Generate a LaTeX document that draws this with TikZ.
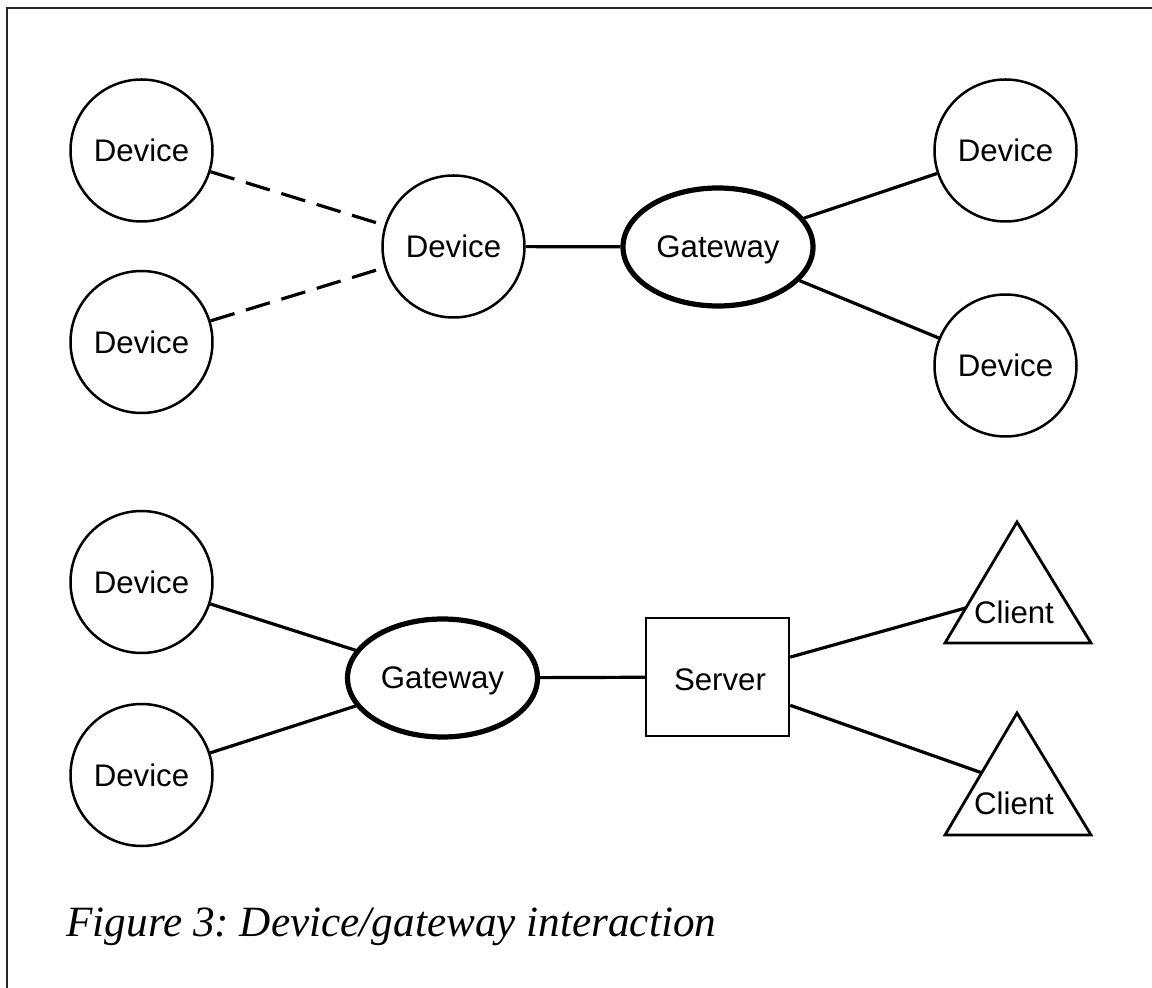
\documentclass[tikz,border=0pt]{standalone}
\usepackage{fontspec}
\setmainfont{Liberation Sans}
\newfontfamily\capfont{Liberation Serif}
\usetikzlibrary{shapes.geometric,calc}
\frenchspacing
\tikzset{
  lbl/.style={font=\fontsize{15.6}{18}\selectfont, inner sep=0pt},
  dev/.style={circle, draw, line width=1.25pt, minimum size=71pt, inner sep=0pt, font=\fontsize{15.6}{18}\selectfont},
  gw/.style={ellipse, draw, line width=2.6pt, minimum width=95pt, minimum height=59pt, inner sep=0pt, text depth=0pt, font=\fontsize{15.6}{18}\selectfont},
  srv/.style={rectangle, draw, line width=1.2pt, minimum width=71.5pt, minimum height=59pt, inner sep=0pt},
  link/.style={line width=1.6pt},
  dlink/.style={line width=1.6pt, dash pattern=on 12.5pt off 6pt},
  tri/.style={line width=1.4pt, line join=miter},
  frame/.style={line width=0.7pt, draw=black!85}
}
\begin{document}
\begin{tikzpicture}[x=0.5pt,y=-0.5pt]
\useasboundingbox (0,0) rectangle (1152,988);
% frame
\coordinate (fb) at (7,988);
\coordinate (ft) at (7,8);
\coordinate (fr) at (1152,8);
\draw[frame] (fb) -- (ft) -- (fr);

% top group
\node[dev] (d1) at (141.5,150.5) {Device};
\node[dev] (d2) at (141.5,342) {Device};
\node[dev] (d3) at (453.5,246.5) {Device};
\node[gw]  (g1) at (718,247) {Gateway};
\node[dev] (d4) at (1005.5,150.5) {Device};
\node[dev] (d5) at (1005.5,365.5) {Device};

\draw[dlink] (d1) -- (d3);
\draw[dlink] (d2) -- (d3);
\draw[link] (d3) -- (g1);
\draw[link] (g1) -- (d4);
\draw[link] (g1) -- (d5);

% bottom group
\node[dev] (d6) at (141.5,582) {Device};
\node[dev] (d7) at (141.5,775) {Device};
\node[gw]  (g2) at (442.5,678) {Gateway};
\node[srv] (s) at (717.5,677) {};
\node[lbl] (stxt) at (720,680) {Server};

\coordinate (c1a) at (1017,522);
\coordinate (c1l) at (945,643);
\coordinate (c1r) at (1091,643);
\draw[tri] (c1a) -- (c1l) -- (c1r) -- cycle;
\node[lbl] (c1) at (1014,612) {Client};

\coordinate (c2a) at (1017,713);
\coordinate (c2l) at (945,835);
\coordinate (c2r) at (1091,835);
\draw[tri] (c2a) -- (c2l) -- (c2r) -- cycle;
\node[lbl] (c2) at (1014,803) {Client};

\coordinate (c1in) at ($(c1l)!0.29!(c1a)$);
\coordinate (c2in) at ($(c2l)!0.51!(c2a)$);
\coordinate (s1) at ($(s.north east)!0.335!(s.south east)$);
\coordinate (s2) at ($(s.north east)!0.735!(s.south east)$);

\draw[link] (d6) -- (g2);
\draw[link] (d7) -- (g2);
\draw[link] (g2) -- (s);
\draw[link] (s1) -- (c1in);
\draw[link] (s2) -- (c2in);

% caption
\node[anchor=base west, inner sep=0pt, font=\capfont\itshape\fontsize{21.6}{25}\selectfont] (cap) at (66,936) {Figure 3: Device/gateway interaction};
\end{tikzpicture}
\end{document}
